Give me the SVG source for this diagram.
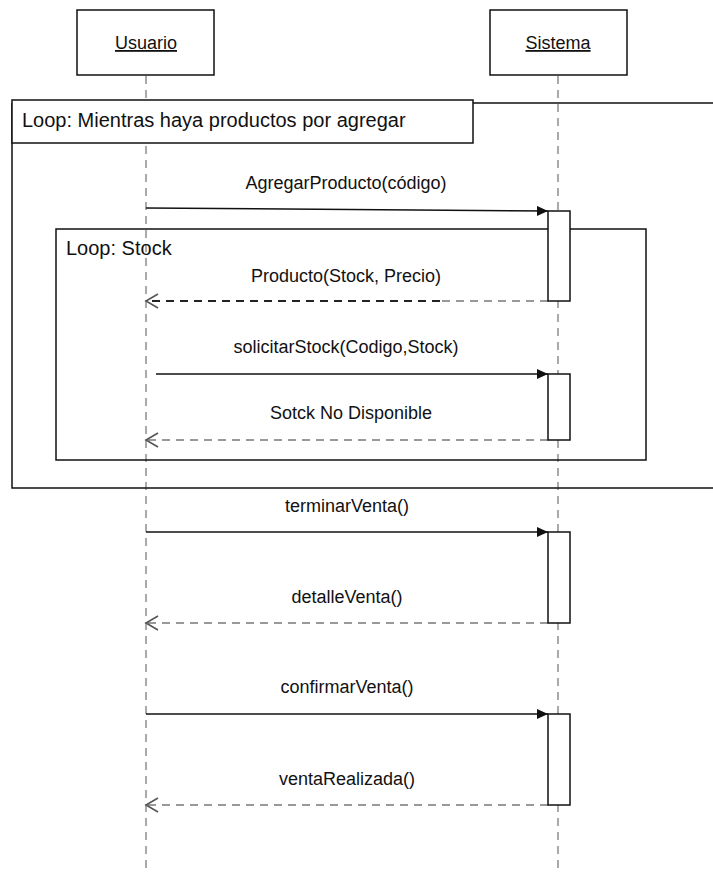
<svg xmlns="http://www.w3.org/2000/svg" width="713" height="873" viewBox="0 0 713 873">
<defs>
<style>
text{font-family:"Liberation Sans",Arial,sans-serif;fill:#111}
.msg{font-size:18px;text-anchor:middle}
.loop{font-size:20px}
.actor{font-size:18px;text-anchor:middle;text-decoration:underline}
.box{fill:#fff;stroke:#111;stroke-width:1.5}
.life{stroke:#aaa;stroke-width:2;stroke-dasharray:8 6;fill:none}
.frame{fill:none;stroke:#111;stroke-width:1.5}
.call{stroke:#111;stroke-width:1.6;fill:none;marker-end:url(#filled)}
.ret{stroke:#999;stroke-width:2;stroke-dasharray:8 6;fill:none;marker-end:url(#open)}
.act{fill:#fff;stroke:#111;stroke-width:1.5}
</style>
<marker id="filled" markerWidth="12" markerHeight="10" refX="11" refY="5" orient="auto" markerUnits="userSpaceOnUse">
<path d="M0,0 L11,5 L0,10 Z" fill="#111"/>
</marker>
<marker id="open" markerWidth="15" markerHeight="16" refX="13" refY="8" orient="auto" markerUnits="userSpaceOnUse">
<path d="M1,1 L13,8 L1,15" fill="none" stroke="#555" stroke-width="1.6"/>
</marker>
</defs>

<g id="lifelines">
<line class="life" x1="146" y1="76" x2="146" y2="873"/>
<line class="life" x1="558" y1="76" x2="558" y2="873"/>
</g>

<g id="usuario">
<rect class="box" x="77" y="10" width="137" height="65"/>
<text class="actor" x="146" y="49">Usuario</text>
</g>
<g id="sistema">
<rect class="box" x="490" y="10" width="137" height="65"/>
<text class="actor" x="558" y="49">Sistema</text>
</g>

<g id="loop-outer">
<path class="frame" d="M12,103 L713,103 M12,103 L12,488 L713,488"/>
<rect class="box" x="12" y="100" width="461" height="43"/>
<text class="loop" x="22" y="127">Loop: Mientras haya productos por agregar</text>
</g>

<g id="loop-stock">
<rect class="frame" x="56" y="229" width="590" height="231"/>
<text class="loop" x="66" y="255">Loop: Stock</text>
</g>

<g id="connectors">
<line class="call" x1="146" y1="208" x2="548" y2="211"/>
<line x1="548" y1="301" x2="440" y2="301" stroke="#999" stroke-width="2" stroke-dasharray="8 6"/>
<line x1="440" y1="301" x2="146" y2="301" stroke="#222" stroke-width="2" stroke-dasharray="8 6" marker-end="url(#open)"/>
<line class="ret" x1="548" y1="440" x2="146" y2="440"/>
<line class="call" x1="156" y1="374" x2="548" y2="374"/>
<line class="call" x1="146" y1="532" x2="548" y2="532"/>
<line class="ret" x1="548" y1="623" x2="146" y2="623"/>
<line class="call" x1="146" y1="714" x2="548" y2="714"/>
<line class="ret" x1="548" y1="805" x2="146" y2="805"/>
</g>

<g id="labels">
<text class="msg" x="346" y="189">AgregarProducto(código)</text>
<text class="msg" x="346" y="282">Producto(Stock, Precio)</text>
<text class="msg" x="346" y="353">solicitarStock(Codigo,Stock)</text>
<text class="msg" x="351" y="419">Sotck No Disponible</text>
<text class="msg" x="347" y="512">terminarVenta()</text>
<text class="msg" x="347" y="603">detalleVenta()</text>
<text class="msg" x="347" y="693">confirmarVenta()</text>
<text class="msg" x="347" y="785">ventaRealizada()</text>
</g>

<g id="activations">
<rect class="act" x="548" y="211" width="22" height="90"/>
<rect class="act" x="548" y="374" width="22" height="66"/>
<rect class="act" x="548" y="532" width="22" height="91"/>
<rect class="act" x="548" y="714" width="22" height="91"/>
</g>
</svg>
